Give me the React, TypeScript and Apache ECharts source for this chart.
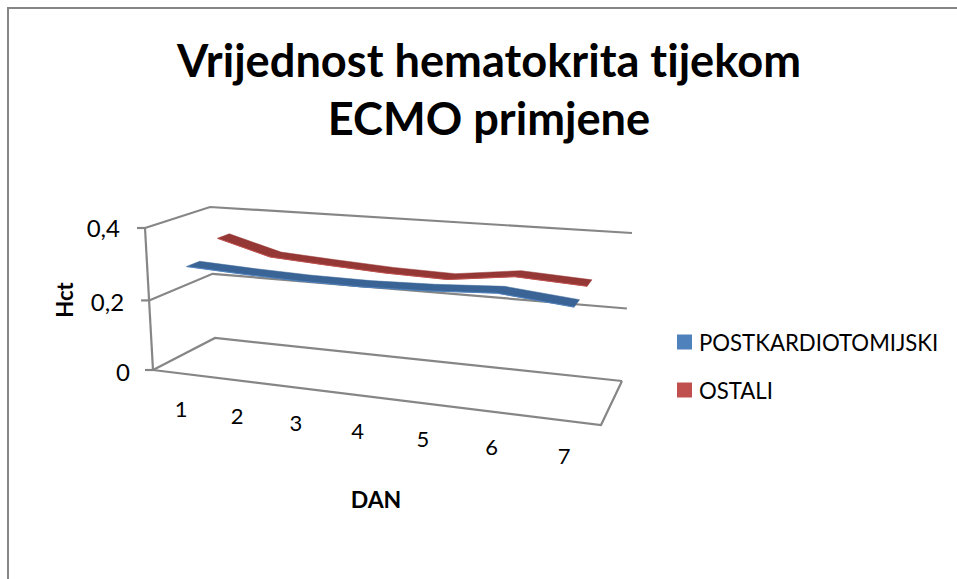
import React, { useEffect, useRef } from "react";
import * as echarts from "echarts";

const titleText = "Vrijednost hematokrita tijekom\nECMO primjene";
const categories = ["1", "2", "3", "4", "5", "6", "7"];
const seriesNames = ["POSTKARDIOTOMIJSKI", "OSTALI"];
const postkardiotomijski = [0.29, 0.283, 0.278, 0.277, 0.282, 0.292, 0.274];
const ostali = [0.335, 0.293, 0.283, 0.274, 0.27, 0.292, 0.282];
const yTicks = [0, 0.2, 0.4];
const yTickLabels = ["0", "0,2", "0,4"];

type P = [number, number];
function homography(p0: P, p1: P, p2: P, p3: P) {
  const sx = p0[0] - p1[0] + p2[0] - p3[0];
  const sy = p0[1] - p1[1] + p2[1] - p3[1];
  const dx1 = p1[0] - p2[0], dy1 = p1[1] - p2[1];
  const dx2 = p3[0] - p2[0], dy2 = p3[1] - p2[1];
  const det = dx1 * dy2 - dx2 * dy1;
  const g = (sx * dy2 - dx2 * sy) / det;
  const h = (dx1 * sy - sx * dy1) / det;
  const a = p1[0] - p0[0] + g * p1[0], b = p3[0] - p0[0] + h * p3[0];
  const d = p1[1] - p0[1] + g * p1[1], e = p3[1] - p0[1] + h * p3[1];
  return (u: number, t: number): P => {
    const w = 1 + g * u + h * t;
    return [(a * u + b * t + p0[0]) / w, (d * u + e * t + p0[1]) / w];
  };
}
const floorQuad = homography([153, 370], [601, 425], [622, 381], [215, 338]);
const topQuad = homography([145, 228], [612, 265], [632, 233], [210, 207]);
function project(u: number, depth: number, v: number): P {
  const f = floorQuad(u, depth);
  const t = topQuad(u, depth);
  const k = v - 0.04 * v * (1 - v);
  return [f[0] + (t[0] - f[0]) * k, f[1] + (t[1] - f[1]) * k];
}
function norm(params: any, px: number[]) {
  const g = params.coordSys;
  return { u: (px[0] - g.x) / g.width, v: (g.y + g.height - px[1]) / g.height };
}

const GREY = "#868686";
const TEXT = "#000000";
const FONT = "Lato";
const RIBBON_DX = 3;
const LINE_W = 2.2;

function ribbon(values: number[], d0: number, d1: number, top: string, edge: string) {
  return (params: any, api: any) => {
    if (params.dataIndex !== 0) return null;
    const pts = values.map((val, i) => norm(params, api.coord([i, val])));
    const shift = (p: P): P => [p[0] + RIBBON_DX, p[1]];
    const front = pts.map((p) => shift(project(p.u, d0, p.v)));
    const back = pts.map((p) => shift(project(p.u, d1, p.v)));
    return {
      type: "group",
      children: [
        { type: "polygon", shape: { points: [...front, ...back.slice().reverse()] }, style: { fill: top, stroke: top, lineWidth: 0.5 } },
        { type: "polyline", shape: { points: front }, style: { fill: "none", stroke: edge, lineWidth: 1 } },
      ],
    };
  };
}

function wallsRender(params: any, api: any) {
  const tick = yTicks[params.dataIndex];
  const px = norm(params, api.coord([0, tick]));
  const v = px.v;
  const fl = project(0, 0, v), bl = project(0, 1, v), br = project(1, 1, v), fr = project(1, 0, v);
  const line = { fill: "none", stroke: GREY, lineWidth: LINE_W };
  const children: any[] = [
    { type: "polyline", shape: { points: [fl, bl, br] }, style: line },
    { type: "line", shape: { x1: fl[0] - 8, y1: fl[1], x2: fl[0], y2: fl[1] }, style: { stroke: GREY, lineWidth: LINE_W } },
    {
      type: "text",
      style: {
        text: yTickLabels[params.dataIndex],
        x: fl[0] - 25 + (tick === 0 ? 2 : 0),
        y: fl[1] + (tick === 0.4 ? -1 : 1),
        fill: TEXT,
        font: `24px ${FONT}`,
        align: "right",
        verticalAlign: "middle",
      },
    },
  ];
  if (tick === 0) {
    children.push({ type: "polyline", shape: { points: [fl, fr, br] }, style: line });
  }
  if (tick === 0.4) {
    const base = project(0, 0, 0);
    children.push({ type: "line", shape: { x1: fl[0], y1: fl[1], x2: base[0], y2: base[1] }, style: { stroke: GREY, lineWidth: LINE_W } });
  }
  return { type: "group", children };
}

function xLabelRender(params: any, api: any) {
  const px = norm(params, api.coord([params.dataIndex, 0]));
  const p = project(px.u, 0, 0);
  return {
    type: "text",
    style: {
      text: categories[params.dataIndex],
      x: p[0] + 1,
      y: p[1] + 35,
      fill: TEXT,
      font: `22px ${FONT}`,
      align: "center",
      verticalAlign: "middle",
    },
  };
}

export default function App() {
  const ref = useRef<HTMLDivElement>(null);
  useEffect(() => {
    const chart = echarts.init(ref.current!, null, { renderer: "svg" });
    chart.setOption({
      animation: false,
      backgroundColor: "#ffffff",
      title: {
        text: titleText,
        left: 484,
        top: 25,
        textAlign: "center",
        textStyle: { fontFamily: FONT, fontWeight: "bold", fontSize: 45.2, lineHeight: 58, color: TEXT },
      },
      grid: { left: 100, top: 100, width: 500, height: 300 },
      xAxis: { type: "category", data: categories, show: false },
      yAxis: { type: "value", min: 0, max: 0.4, interval: 0.2, show: false },
      legend: {
        orient: "vertical",
        left: 677,
        top: 330,
        padding: 0,
        itemWidth: 15,
        itemHeight: 15,
        itemGap: 24,
        icon: "rect",
        data: seriesNames,
        textStyle: { fontFamily: FONT, fontSize: 22.2, lineHeight: 24, color: TEXT, padding: [0, 0, 0, 2] },
      },
      graphic: [
        {
          type: "polyline",
          shape: { points: [[8, 579], [8, 8], [957, 8]] },
          style: { fill: "none", stroke: GREY, lineWidth: 2 },
        },
        {
          type: "text",
          x: 64,
          y: 300,
          rotation: Math.PI / 2,
          style: { text: "Hct", fill: TEXT, font: `bold 22px ${FONT}`, align: "center", verticalAlign: "middle" },
        },
        {
          type: "text",
          x: 376,
          y: 499,
          style: { text: "DAN", fill: TEXT, font: `bold 23px ${FONT}`, align: "center", verticalAlign: "middle" },
        },
      ],
      series: [
        { type: "custom", name: "walls", coordinateSystem: "cartesian2d", clip: false, silent: true, data: yTicks.map((t) => [0, t]), renderItem: wallsRender },
        { type: "custom", name: "xlabels", coordinateSystem: "cartesian2d", clip: false, silent: true, data: categories.map((_, i) => [i, 0]), renderItem: xLabelRender },
        { type: "custom", name: seriesNames[1], coordinateSystem: "cartesian2d", clip: false, itemStyle: { color: "#c0504d" }, data: ostali.map((v, i) => [i, v]), renderItem: ribbon(ostali, 0.65, 0.85, "#953735", "#c0504d") },
        { type: "custom", name: seriesNames[0], coordinateSystem: "cartesian2d", clip: false, itemStyle: { color: "#4f81bd" }, data: postkardiotomijski.map((v, i) => [i, v]), renderItem: ribbon(postkardiotomijski, 0.15, 0.35, "#3a6496", "#4f81bd") },
      ],
    });
    return () => chart.dispose();
  }, []);
  return (
    <>
      <style>{"svg text { font-variant-ligatures: none; font-feature-settings: 'liga' 0; }"}</style>
      <div ref={ref} style={{ position: "absolute", left: 0, top: 0, width: 957, height: 579 }} />
    </>
  );
}
